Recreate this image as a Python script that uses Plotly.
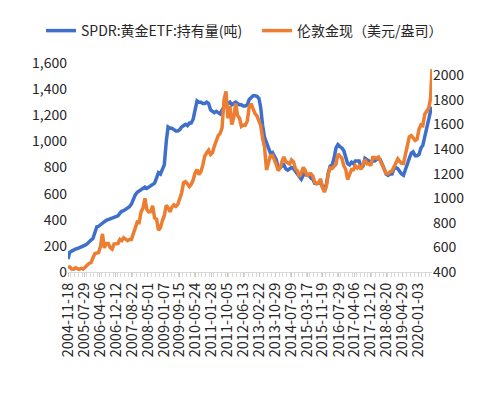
import plotly.graph_objects as go

# ---- data (monthly readings) ----
month_dates = [f"{y}-{m:02d}-15" for y in range(2004, 2021) for m in range(1, 13)
               if (2004, 12) <= (y, m) <= (2020, 7)]
dates = ["2004-11-18"] + month_dates + ["2020-07-31", "2020-08-07"]

spdr_tonnes = [
    100, 150,
    160, 170, 175, 180, 185, 195, 200, 205, 215, 235, 245, 255,
    300, 345, 350, 365, 375, 385, 395, 400, 405, 410, 420, 425,
    430, 450, 465, 470, 480, 490, 500, 520, 560, 590, 610, 620,
    630, 640, 650, 640, 650, 660, 670, 680, 720, 760, 750, 780,
    820, 1000, 1110, 1100, 1100, 1090, 1080, 1080, 1090, 1110, 1120, 1130,
    1120, 1140, 1140, 1170, 1240, 1310, 1300, 1300, 1290, 1290, 1300, 1290,
    1240, 1230, 1220, 1230, 1220, 1210, 1240, 1260, 1300, 1290, 1300, 1280,
    1290, 1300, 1290, 1280, 1280, 1270, 1270, 1280, 1320, 1340, 1350, 1350,
    1345, 1330, 1260, 1120, 1030, 990, 940, 910, 915, 880, 860, 800,
    800, 810, 820, 790, 780, 790, 800, 790, 770, 750, 720, 710,
    740, 760, 740, 740, 720, 710, 680, 680, 680, 695, 650, 640,
    670, 760, 810, 820, 870, 950, 975, 960, 950, 930, 870, 830,
    820, 840, 830, 850, 850, 850, 800, 810, 870, 860, 850, 840,
    850, 850, 860, 870, 860, 830, 790, 750, 740, 750, 750, 790,
    800, 790, 770, 750, 740, 790, 830, 870, 910, 920, 890, 890,
    900, 950, 970, 1040, 1100, 1170, 1230,
    1250, 1265,
]

gold_usd = [
    439, 442,
    424, 423, 434, 429, 422, 430, 424, 438, 456, 470, 476, 510,
    549, 555, 557, 610, 710, 596, 633, 632, 599, 586, 628, 629,
    631, 665, 655, 679, 667, 655, 665, 665, 712, 754, 806, 803,
    889, 922, 1000, 909, 888, 890, 939, 839, 829, 740, 760, 816,
    858, 943, 924, 890, 928, 946, 934, 949, 996, 1043, 1127, 1135,
    1118, 1095, 1113, 1148, 1205, 1232, 1193, 1215, 1271, 1343, 1370, 1391,
    1356, 1372, 1424, 1474, 1510, 1528, 1572, 1800, 1870, 1650, 1750, 1600,
    1656, 1770, 1674, 1650, 1585, 1596, 1594, 1626, 1744, 1770, 1721, 1688,
    1671, 1627, 1593, 1487, 1414, 1230, 1286, 1347, 1349, 1316, 1275, 1225,
    1244, 1300, 1336, 1299, 1287, 1279, 1311, 1296, 1239, 1222, 1176, 1202,
    1251, 1227, 1179, 1198, 1199, 1181, 1131, 1117, 1125, 1157, 1086, 1050,
    1097, 1200, 1246, 1242, 1260, 1276, 1360, 1341, 1326, 1266, 1236, 1152,
    1192, 1234, 1231, 1266, 1246, 1260, 1236, 1283, 1315, 1280, 1282, 1265,
    1331, 1331, 1325, 1335, 1303, 1282, 1238, 1202, 1198, 1215, 1221, 1250,
    1291, 1320, 1300, 1285, 1284, 1359, 1413, 1500, 1510, 1495, 1470, 1480,
    1560, 1597, 1591, 1683, 1715, 1732, 1810,
    1975, 2050,
]

tick_labels = [
    "2004-11-18", "2005-07-29", "2006-04-06", "2006-12-12", "2007-08-22",
    "2008-05-01", "2009-01-07", "2009-09-15", "2010-05-24", "2011-01-28",
    "2011-10-05", "2012-06-13", "2013-02-22", "2013-10-29", "2014-07-09",
    "2015-03-17", "2015-11-19", "2016-07-29", "2017-04-06", "2017-12-12",
    "2018-08-20", "2019-04-29", "2020-01-03",
]

assert len(dates) == len(spdr_tonnes) == len(gold_usd)

FONT = "Noto Sans CJK SC, Noto Sans, sans-serif"
W, H = 492, 385
ML, MR, MT, MB = 60, 68, 55, 121

fig = go.Figure()
fig.add_trace(go.Scatter(
    x=dates, y=spdr_tonnes, name="SPDR:黄金ETF:持有量(吨)",
    mode="lines", line=dict(color="#3E6FCB", width=3.5), yaxis="y",
    legend="legend",
))
fig.add_trace(go.Scatter(
    x=dates, y=gold_usd, name="伦敦金现（美元/盎司）",
    mode="lines", line=dict(color="#ED7D31", width=3.5), yaxis="y2",
    legend="legend2",
))

legend_common = dict(
    xref="container", yref="container", y=1 - 23 / H, yanchor="middle",
    xanchor="left", font=dict(size=14, color="#262626"),
    bgcolor="rgba(0,0,0,0)", itemwidth=30,
)

fig.update_layout(
    width=W, height=H,
    margin=dict(l=ML, r=MR, t=MT, b=MB, autoexpand=False),
    paper_bgcolor="white", plot_bgcolor="white",
    font=dict(family=FONT, size=14, color="#262626"),
    showlegend=True,
    legend=dict(x=33 / W, **legend_common),
    legend2=dict(x=249 / W, **legend_common),
    xaxis=dict(
        type="date", range=["2004-11-18", "2020-08-07"], automargin=False,
        tickvals=tick_labels, ticktext=tick_labels, tickangle=-90,
        tickfont=dict(size=14.5, color="#262626"),
        ticks="outside", ticklen=4, tickcolor="#c8c8c8",
        showline=True, linecolor="#d9d9d9", linewidth=1,
        showgrid=False, zeroline=False,
        minor=dict(dtick="M2", ticks="outside", ticklen=4, tickcolor="#d9d9d9"),
    ),
    yaxis=dict(
        range=[0, 1600], dtick=200, tickformat=",d", automargin=False,
        showgrid=False, zeroline=False, showline=False, ticks="",
        tickfont=dict(size=14, color="#262626"),
    ),
    yaxis2=dict(
        overlaying="y", side="right", range=[400, 2100], tick0=400, dtick=200,
        tickformat="d", showgrid=False, zeroline=False, showline=False, ticks="",
        automargin=False,
        tickfont=dict(size=14, color="#262626"),
    ),
)

fig.write_html("out.html")
